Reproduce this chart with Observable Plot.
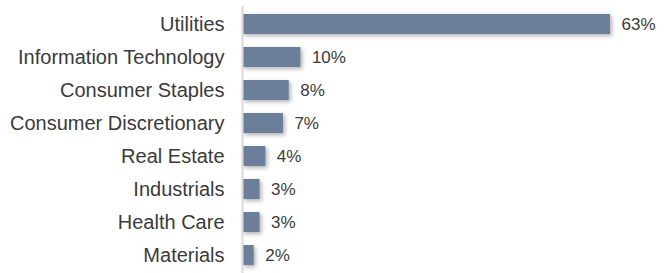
<!DOCTYPE html>
<html>
<head>
<meta charset="utf-8">
<script src="https://cdn.jsdelivr.net/npm/d3@7"></script>
<script src="https://cdn.jsdelivr.net/npm/@observablehq/plot@0.6"></script>
<style>
  html, body { margin: 0; padding: 0; background: #fff; }
  #chart svg { display: block; }
  #chart svg g[aria-label="y-axis tick label"] text { font-size: 20px; }
</style>
</head>
<body>
<div id="chart"></div>
<script>
const sectors = ["Utilities", "Information Technology", "Consumer Staples", "Consumer Discretionary", "Real Estate", "Industrials", "Health Care", "Materials"];
const weights = [63, 10, 8, 7, 4, 3, 3, 2];
const labels = ["63%", "10%", "8%", "7%", "4%", "3%", "3%", "2%"];

const data = sectors.map((s, i) => ({sector: s, value: weights[i], label: labels[i]}));

const chart = Plot.plot({
  width: 668,
  height: 273,
  marginLeft: 242,
  marginRight: 58,
  marginTop: 6,
  marginBottom: 0,
  style: {fontFamily: "'Liberation Sans', Arial, sans-serif", fontSize: "17px", color: "#3a3a3a", background: "#fff"},
  x: {domain: [0, 63], axis: null},
  y: {domain: sectors, paddingInner: 0.4, paddingOuter: 0.2, label: null, tickSize: 0, tickPadding: 18},
  marks: [
    Plot.barX(data, {y: "sector", x: "value", fill: "#6b7f9b"}),
    Plot.text(data, {y: "sector", x: "value", text: "label", textAnchor: "start", dx: 11, fontSize: 17, fill: "#3a3a3a"}),
    Plot.ruleX([0], {stroke: "#d9d9d9", strokeWidth: 2})
  ]
});
chart.querySelectorAll('g[aria-label="y-axis tick label"] text').forEach(t => t.setAttribute("font-size", "20"));
chart.querySelectorAll('g[aria-label="bar"] rect').forEach(r => {
  r.style.filter = "drop-shadow(2px 2px 2px rgba(0,0,0,0.3))";
});
document.getElementById("chart").appendChild(chart);
</script>
</body>
</html>
